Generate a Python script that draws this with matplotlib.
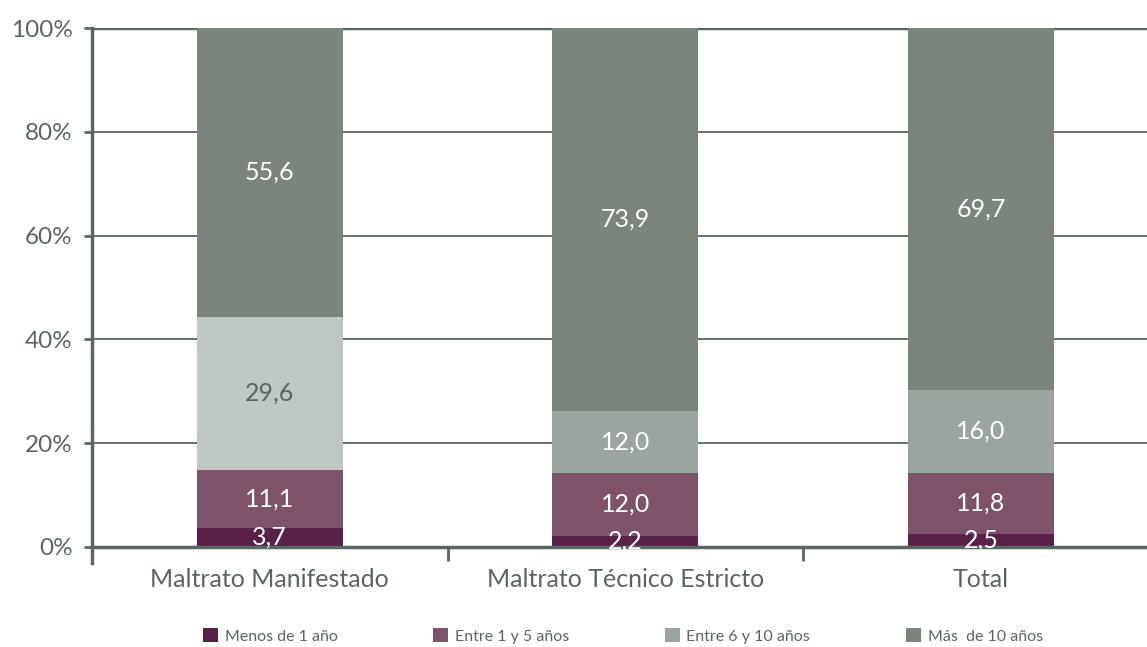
import matplotlib.pyplot as plt
import numpy as np

categorias = ['Maltrato Manifestado', 'Maltrato Técnico Estricto', 'Total']
series = ['Menos de 1 año', 'Entre 1 y 5 años', 'Entre 6 y 10 años', 'Más  de 10 años']
menos_1 = [3.7, 2.2, 2.5]
entre_1_5 = [11.1, 12.0, 11.8]
entre_6_10 = [29.6, 12.0, 16.0]
mas_10 = [55.6, 73.9, 69.7]
etiquetas_y = ['0%', '20%', '40%', '60%', '80%', '100%']

gris = '#5b6660'
colores = ['#5a2048', '#7e536a', '#9ba59f', '#7a867c']
# the first bar has a lighter 6-10 segment in the original
colores_6_10 = ['#bec7c1', '#9ba59f', '#9ba59f']
color_texto = ['white', 'white', None, 'white']

plt.rcParams['font.family'] = ['Lato', 'DejaVu Sans']

fig = plt.figure(figsize=(11.47, 6.47), dpi=100)
ax = fig.add_axes([0.0802, 0.1546, 0.93, 0.802])

x = np.arange(len(categorias))
datos = [menos_1, entre_1_5, entre_6_10, mas_10]
base = np.zeros(len(categorias))
for i, (serie, vals) in enumerate(zip(series, datos)):
    cols = colores_6_10 if i == 2 else [colores[i]] * len(categorias)
    ax.bar(x, vals, 0.41, bottom=base, color=cols, label=serie, zorder=2, linewidth=0)
    for j, v in enumerate(vals):
        if i == 2:
            tc = gris if j == 0 else 'white'
        else:
            tc = color_texto[i]
        ax.text(x[j], base[j] + v / 2, f'{v:.1f}'.replace('.', ','), ha='center', va='center',
                fontsize=18, color=tc, zorder=3)
    base += np.array(vals)

ax.set_xlim(-0.5, 2.5)
ax.set_ylim(0, 100)
ax.set_yticks(np.arange(0, 101, 20))
ax.set_yticklabels(etiquetas_y)
ax.yaxis.grid(True, color=gris, linewidth=1.3, zorder=1)
ax.set_axisbelow(True)

ax.set_xticks(x)
ax.set_xticklabels(categorias)
ax.set_xticks([-0.5, 0.5, 1.5], minor=True)
ax.tick_params(axis='x', which='major', length=0, pad=15, labelsize=18, labelcolor=gris)
ax.tick_params(axis='x', which='minor', length=10, width=2, color=gris, direction='out')
ax.tick_params(axis='y', length=6, width=2, color=gris, labelsize=17.5, labelcolor=gris, pad=8)

for s in ['top', 'right']:
    ax.spines[s].set_visible(False)
for s in ['left', 'bottom']:
    ax.spines[s].set_color(gris)
    ax.spines[s].set_linewidth(2.5)
ax.spines['left'].set_bounds(-3, 100)
ax.axhline(100, color=gris, linewidth=2.5, zorder=1)

handles, labels = ax.get_legend_handles_labels()
leg = fig.legend(handles, labels, loc='center', bbox_to_anchor=(0.543, 0.017), ncol=4, frameon=False,
                 fontsize=11.5, handlelength=0.95, handleheight=0.95, columnspacing=6.0, handletextpad=0.4)
for t in leg.get_texts():
    t.set_color(gris)
leg.legend_handles[2].set_color('#9ba59f')

fig.savefig('out.png', dpi=100)
